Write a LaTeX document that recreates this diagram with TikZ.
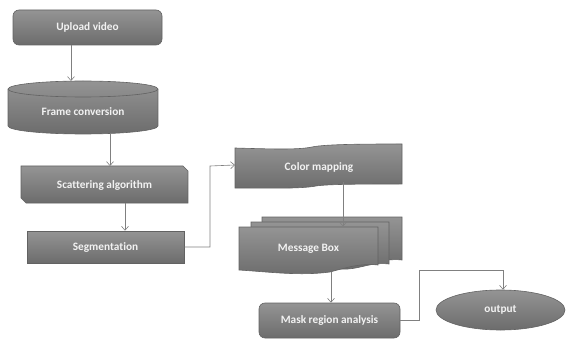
\documentclass[tikz,border=0pt]{standalone}
\usepackage{fontspec}
\setmainfont{Carlito}[Ligatures=NoCommon]
\usetikzlibrary{arrows.meta,shapes.geometric,calc}
\definecolor{gtop}{RGB}{148,148,148}
\definecolor{gbot}{RGB}{108,108,108}
\definecolor{edgeg}{RGB}{98,98,98}
\definecolor{lineg}{RGB}{128,128,128}
\definecolor{txt}{RGB}{242,242,242}
\begin{document}
\begin{tikzpicture}[x=1pt,y=-1pt,
  shp/.style={top color=gtop,bottom color=gbot,draw=edgeg,line width=0.6pt},
  lbl/.style={text=txt,font=\fontsize{11.3}{13}\selectfont\bfseries,inner sep=0pt},
  anchorbox/.style={inner sep=0pt,outer sep=0pt},
  conn/.style={draw=lineg,line width=0.6pt,-{Straight Barb[length=4pt,width=7pt]}},
]
\useasboundingbox (0,0) rectangle (567,339);

% x positions for vertical connectors
\coordinate (c71) at (71,0);
\coordinate (c110) at (110,0);
\coordinate (c125) at (125,0);
\coordinate (c210) at (210,0);
\coordinate (c343) at (343,0);
\coordinate (c331) at (331,0);
\coordinate (c419) at (419,0);
\coordinate (c503) at (503,0);
\coordinate (y270) at (0,270);

% Upload video
\node[shp,lbl,rounded corners=6pt,minimum width=149pt,minimum height=35pt] (up) at (87.5,27.5) {Upload video};

% Frame conversion (cylinder)
\path[shp] (8,89) -- (8,126) arc[start angle=180,end angle=360,x radius=75pt,y radius=8pt]
  -- (158,89) arc[start angle=0,end angle=180,x radius=75pt,y radius=8pt] -- cycle;
\draw[edgeg,line width=0.6pt] (8,89) arc[start angle=180,end angle=360,x radius=75pt,y radius=8pt];
\node[anchorbox,minimum width=150pt,minimum height=53pt] (frame) at (83,107.5) {};
\node[lbl] (frametext) at (83,112) {Frame conversion};

% Scattering algorithm (snipped corners)
\path[shp] (21,166) -- (183,166) -- (188,171) -- (188,203) -- (26,203) -- (21,198) -- cycle;
\node[anchorbox,minimum width=167pt,minimum height=37pt] (scat) at (104.5,184.5) {};
\node[lbl] (scattext) at (104.5,185) {Scattering algorithm};

% Segmentation
\node[shp,lbl,minimum width=157pt,minimum height=32pt] (seg) at (105.5,247) {Segmentation};

% Color mapping (wave banner)
\path[shp] (235,148) .. controls (270,149) and (298,150) .. (312,147)
  .. controls (326,144) and (370,144) .. (402,144) -- (402,184)
  .. controls (370,184) and (328,184) .. (316,186)
  .. controls (300,189) and (270,188) .. (235,188) -- cycle;
\node[anchorbox,minimum width=167pt,minimum height=40pt] (color) at (318.5,166) {};
\node[lbl] (colortext) at (319,167) {Color mapping};

% Message Box (multi-document)
\path[shp] (262,217) -- (402,217) -- (402,260)
  .. controls (385,258) and (375,264) .. (360,265) -- (262,265) -- cycle;
\path[shp] (251,222) -- (389,222) -- (389,264)
  .. controls (372,262) and (362,268) .. (348,269) -- (251,269) -- cycle;
\path[shp] (239,227) -- (378,227) -- (378,265)
  .. controls (360,263) and (345,268) .. (330,272)
  .. controls (300,276) and (270,272) .. (239,270) -- cycle;
\node[anchorbox,minimum width=163pt,minimum height=45pt] (msg) at (320.5,249) {};
\node[lbl] (msgtext) at (308.5,249) {Message Box};

% Mask region analysis
\node[shp,lbl,rounded corners=6pt,minimum width=141pt,minimum height=35pt] (mask) at (329.5,320.5) {Mask region analysis};

% output
\node[shp,lbl,ellipse,minimum width=129pt,minimum height=40pt] (out) at (500.5,310) {output};

% connectors
\draw[conn] (up.south -| c71) -- (frame.north -| c71);
\draw[conn] ($(frame.south -| c110)+(0,-1)$) -- (scat.north -| c110);
\draw[conn] (scat.south -| c125) -- (seg.north -| c125);
\draw[conn] (seg.east) -- (seg.east -| c210) -- (color.west -| c210) -- ($(color.west)+(0,-1)$);
\draw[conn] ($(color.south -| c343)+(0,-4)$) -- (msg.north -| c343);
\draw[conn] ($(msg.south -| c331)+(0,0)$) -- (mask.north -| c331);
\draw[conn] (mask.east) -- (mask.east -| c419) -- (c419 |- y270) -- (c503 |- y270) -- (out.north -| c503);
\end{tikzpicture}
\end{document}
